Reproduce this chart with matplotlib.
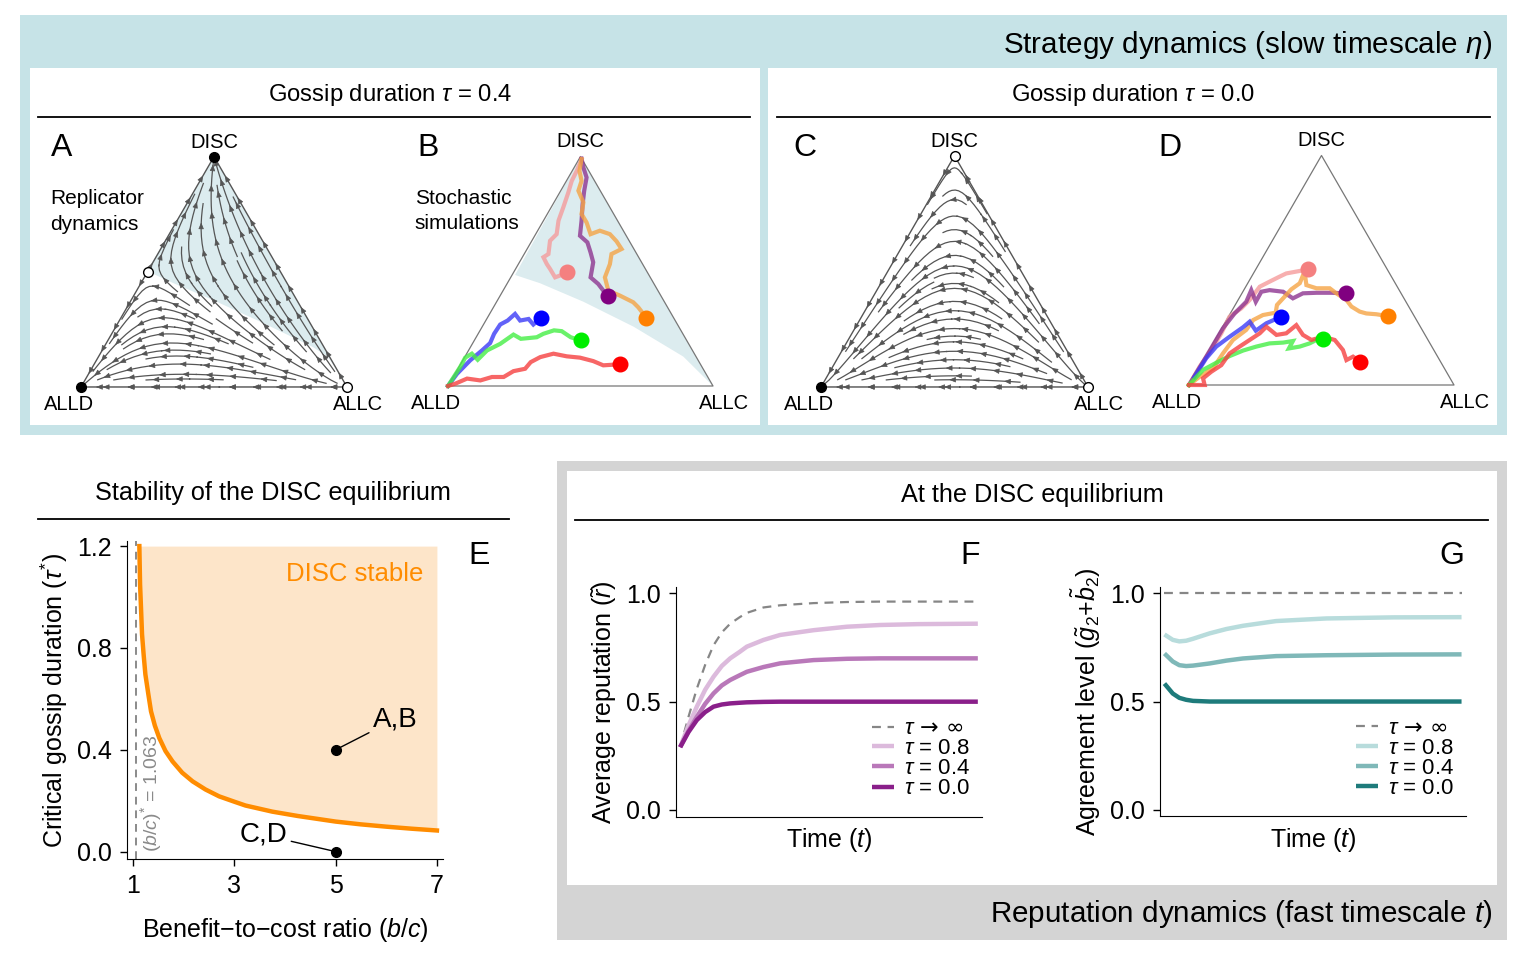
import numpy as np
import matplotlib
matplotlib.use("Agg")
import matplotlib.pyplot as plt
from matplotlib.patches import Rectangle, Polygon
from matplotlib.lines import Line2D

plt.rcParams['font.family'] = ['Liberation Sans', 'DejaVu Sans']
plt.rcParams['mathtext.fontset'] = 'custom'
plt.rcParams['mathtext.rm'] = 'Liberation Sans'
plt.rcParams['mathtext.it'] = 'Liberation Sans:italic'
plt.rcParams['mathtext.bf'] = 'Liberation Sans:bold'

W, H = 1528, 966
SQ3 = np.sqrt(3) / 2

# ---------------- data ----------------
# replicator payoffs, rows/cols = ALLD, ALLC, DISC
payoff_tau04 = [[0, 3, 1], [-1, 2, 1], [-1, 3.5, 2]]
payoff_tau00 = [[0, 3, 1], [-1, 2, 0], [-1.5, 3.5, 0.5]]

# basin of DISC (triangle coords X, Y)
sep_A_x = [0.248, 0.346, 0.496, 0.684, 0.872, 0.929, 1.0]
sep_A_y = [0.436, 0.391, 0.327, 0.241, 0.150, 0.113, 0.0]
sep_B_x = [0.253, 0.347, 0.511, 0.700, 0.888, 1.0]
sep_B_y = [0.419, 0.388, 0.318, 0.224, 0.111, 0.0]

# stochastic runs, tau = 0.4 (panel B)
B_pink = [(0.504, 0.856), (0.486, 0.812), (0.467, 0.774), (0.454, 0.730), (0.435, 0.674), (0.417, 0.624),
          (0.410, 0.573), (0.385, 0.548), (0.379, 0.498), (0.360, 0.486), (0.373, 0.460), (0.385, 0.442),
          (0.404, 0.410), (0.423, 0.417), (0.448, 0.429)]
B_purple = [(0.504, 0.858), (0.511, 0.824), (0.523, 0.787), (0.514, 0.737), (0.508, 0.686), (0.504, 0.624),
            (0.498, 0.567), (0.526, 0.542), (0.538, 0.504), (0.548, 0.467), (0.538, 0.410), (0.567, 0.385),
            (0.586, 0.360), (0.605, 0.338)]
B_orange = [(0.504, 0.856), (0.496, 0.812), (0.504, 0.774), (0.492, 0.737), (0.511, 0.693), (0.504, 0.649),
            (0.523, 0.617), (0.538, 0.573), (0.573, 0.586), (0.611, 0.573), (0.636, 0.546), (0.655, 0.517),
            (0.617, 0.498), (0.611, 0.460), (0.592, 0.410), (0.605, 0.360), (0.649, 0.341), (0.699, 0.316),
            (0.718, 0.297), (0.749, 0.257)]
B_blue = [(0, 0), (0.034, 0.046), (0.084, 0.097), (0.128, 0.134), (0.159, 0.162), (0.174, 0.197),
          (0.197, 0.232), (0.225, 0.247), (0.253, 0.272), (0.272, 0.247), (0.304, 0.253), (0.322, 0.232),
          (0.350, 0.256)]
B_green = [(0, 0), (0.046, 0.072), (0.065, 0.107), (0.090, 0.122), (0.112, 0.099), (0.147, 0.134),
           (0.197, 0.159), (0.247, 0.194), (0.275, 0.178), (0.335, 0.184), (0.360, 0.197), (0.400, 0.210),
           (0.429, 0.207), (0.463, 0.184), (0.501, 0.172)]
B_red = [(0, 0), (0.028, 0.009), (0.072, 0.028), (0.122, 0.021), (0.166, 0.034), (0.210, 0.034),
         (0.247, 0.056), (0.291, 0.065), (0.312, 0.090), (0.348, 0.109), (0.398, 0.122), (0.448, 0.112),
         (0.498, 0.107), (0.548, 0.094), (0.586, 0.078), (0.649, 0.082)]

# stochastic runs, tau = 0.0 (panel D)
D_pink = [(0, 0), (0.040, 0.069), (0.084, 0.132), (0.122, 0.195), (0.153, 0.258), (0.197, 0.289),
          (0.229, 0.321), (0.267, 0.371), (0.304, 0.390), (0.342, 0.409), (0.367, 0.421), (0.405, 0.428),
          (0.449, 0.436)]
D_purple = [(0, 0), (0.065, 0.107), (0.128, 0.214), (0.172, 0.270), (0.216, 0.314), (0.235, 0.358),
            (0.252, 0.314), (0.273, 0.352), (0.304, 0.358), (0.355, 0.352), (0.392, 0.327), (0.430, 0.346),
            (0.481, 0.348), (0.537, 0.348), (0.591, 0.346)]
D_orange = [(0, 0), (0.040, 0.031), (0.091, 0.063), (0.128, 0.119), (0.166, 0.170), (0.216, 0.208),
            (0.242, 0.245), (0.279, 0.264), (0.327, 0.273), (0.332, 0.302), (0.367, 0.340), (0.386, 0.361),
            (0.418, 0.384), (0.436, 0.428), (0.443, 0.377), (0.481, 0.365), (0.531, 0.365), (0.556, 0.346),
            (0.594, 0.321), (0.613, 0.296), (0.644, 0.277), (0.669, 0.270), (0.707, 0.267), (0.751, 0.260)]
D_blue = [(0.02, 0.03), (0.065, 0.101), (0.103, 0.145), (0.153, 0.182), (0.204, 0.218), (0.229, 0.239),
          (0.252, 0.205), (0.292, 0.233), (0.319, 0.245), (0.348, 0.258)]
D_green = [(0, 0), (0.053, 0.057), (0.103, 0.084), (0.153, 0.109), (0.204, 0.130), (0.254, 0.145),
           (0.304, 0.157), (0.355, 0.160), (0.392, 0.166), (0.377, 0.138), (0.418, 0.145), (0.455, 0.157),
           (0.481, 0.170), (0.506, 0.172)]
D_red = [(0, 0), (0.059, 0.0), (0.053, 0.025), (0.084, 0.050), (0.122, 0.075), (0.153, 0.119),
         (0.191, 0.145), (0.229, 0.170), (0.267, 0.195), (0.292, 0.220), (0.330, 0.189), (0.367, 0.195),
         (0.405, 0.226), (0.430, 0.189), (0.462, 0.170), (0.506, 0.182), (0.550, 0.170), (0.581, 0.132),
         (0.594, 0.094), (0.619, 0.107), (0.647, 0.088)]

# panel E: critical gossip duration vs b/c
bc_ratio = [1.124, 1.138, 1.16, 1.177, 1.21, 1.243, 1.30, 1.354, 1.43, 1.518, 1.64, 1.78, 1.97, 2.175,
            2.43, 2.70, 3.0, 3.22, 3.75, 4.25, 5.0, 5.5, 6.0, 6.5, 7.0]
tau_crit = [1.20, 1.05, 0.94, 0.853, 0.77, 0.696, 0.62, 0.551, 0.495, 0.446, 0.395, 0.354, 0.31, 0.276,
            0.244, 0.217, 0.196, 0.181, 0.157, 0.14, 0.118, 0.107, 0.098, 0.09, 0.083]
bc_star = 1.063
points_bc = [5, 5]
points_tau = [0.4, 0.0]
point_labels = ["A,B", "C,D"]

# panels F, G: time in fractions of the shown window
t_frac = [0, 0.028, 0.056, 0.084, 0.112, 0.14, 0.168, 0.2, 0.224, 0.28, 0.336, 0.448, 0.56, 0.672, 0.8, 1.0]
rep_inf = [0.29, 0.43, 0.56, 0.67, 0.76, 0.82, 0.86, 0.89, 0.91, 0.935, 0.945, 0.955, 0.96, 0.962, 0.962, 0.962]
rep_08 = [0.29, 0.39, 0.477, 0.555, 0.615, 0.665, 0.70, 0.73, 0.754, 0.785, 0.808, 0.83, 0.846, 0.854, 0.858, 0.86]
rep_04 = [0.29, 0.365, 0.43, 0.49, 0.538, 0.575, 0.60, 0.622, 0.638, 0.66, 0.677, 0.692, 0.698, 0.70, 0.70, 0.70]
rep_00 = [0.29, 0.36, 0.415, 0.452, 0.477, 0.487, 0.492, 0.495, 0.497, 0.499, 0.5, 0.5, 0.5, 0.5, 0.5, 0.5]

agr_t = [0, 0.028, 0.05, 0.073, 0.096, 0.152, 0.208, 0.264, 0.376, 0.545, 0.77, 1.0]
agr_inf = [1.0, 1.0, 1.0, 1.0, 1.0, 1.0, 1.0, 1.0, 1.0, 1.0, 1.0, 1.0]
agr_08 = [0.81, 0.785, 0.778, 0.781, 0.79, 0.815, 0.835, 0.85, 0.872, 0.884, 0.889, 0.89]
agr_04 = [0.722, 0.685, 0.668, 0.664, 0.666, 0.676, 0.689, 0.699, 0.71, 0.714, 0.717, 0.718]
agr_00 = [0.583, 0.537, 0.517, 0.508, 0.503, 0.5, 0.5, 0.5, 0.5, 0.5, 0.5, 0.5]

tau_labels = [r"$\tau$ → ∞", r"$\tau$ = 0.8", r"$\tau$ = 0.4", r"$\tau$ = 0.0"]
purples = ["#868686", "#dcbadc", "#b978b9", "#8a1f8a"]
teals = ["#868686", "#b8dcdc", "#7fb8b8", "#1e7b7b"]

ARROW_GREY = "#555555"


# ---------------- helpers ----------------
def rect(x0, y0, x1, y1):
    return [x0 / W, 1 - y1 / H, (x1 - x0) / W, (y1 - y0) / H]


def fig_box(fig, x0, y0, x1, y1, color):
    fig.add_artist(Rectangle((x0 / W, 1 - y1 / H), (x1 - x0) / W, (y1 - y0) / H,
                             transform=fig.transFigure, facecolor=color, edgecolor="none", zorder=0))


def fig_hline(fig, x0, x1, y):
    fig.add_artist(Line2D([x0 / W, x1 / W], [1 - y / H, 1 - y / H], transform=fig.transFigure,
                          color="black", lw=1.3))


def fig_label(fig, x, y, s, **kw):
    fig.text(x / W, 1 - y / H, s, ha="center", va="center", **kw)


def tri_axes(fig, ox, oy, s):
    # ALLD vertex at pixel (ox, oy), s pixels per unit side
    x0, x1, y0, y1 = ox - 60, ox + s + 50, oy - 260, oy + 40
    ax = fig.add_axes(rect(x0, y0, x1, y1))
    ax.set_xlim((x0 - ox) / s, (x1 - ox) / s)
    ax.set_ylim((oy - y1) / s, (oy - y0) / s)
    ax.axis("off")
    return ax


def tri_frame(ax, color="#555555", lw=1.0):
    ax.plot([0, 1, 0.5, 0], [0, 0, SQ3, 0], color=color, lw=lw, zorder=3)
    ax.text(0.5, SQ3 + 0.055, "DISC", ha="center", va="center", fontsize=14.5)
    ax.text(-0.045, -0.065, "ALLD", ha="center", va="center", fontsize=14.5)
    ax.text(1.042, -0.065, "ALLC", ha="center", va="center", fontsize=14.5)


def velocity(payoff, X, Y):
    xs = Y / SQ3
    xc = X - 0.5 * xs
    xd = 1 - xc - xs
    P = np.stack([xd, xc, xs])
    M = np.asarray(payoff, float)
    f = np.tensordot(M, P, axes=1)
    fbar = (P * f).sum(0)
    dP = P * (f - fbar)
    return dP[1] + 0.5 * dP[2], SQ3 * dP[2], (xd, xc, xs)


def arrowhead(ax, p, d):
    d = d / (np.hypot(*d) + 1e-12)
    ax.annotate("", xy=(p[0] + 0.003 * d[0], p[1] + 0.003 * d[1]), xytext=(p[0] - 0.003 * d[0], p[1] - 0.003 * d[1]),
                arrowprops=dict(arrowstyle="-|>,head_length=0.6,head_width=0.25", color=ARROW_GREY, lw=0.5,
                                shrinkA=0, shrinkB=0, mutation_scale=6.5), zorder=4)


def chain(segs):
    out, cur = [], None
    for s in segs:
        s = np.asarray(s)
        if len(s) < 2:
            continue
        if cur is not None and np.allclose(cur[-1], s[0]):
            cur.extend(list(s[1:]))
        else:
            if cur is not None:
                out.append(np.array(cur))
            cur = list(s)
    if cur is not None:
        out.append(np.array(cur))
    return out


def replicator(ax, payoff, density):
    n = 240
    gx = np.linspace(0, 1, n)
    gy = np.linspace(0, SQ3, n)
    X, Y = np.meshgrid(gx, gy)
    U, V, (xd, xc, xs) = velocity(payoff, X, Y)
    out = (xd < -1e-9) | (xc < -1e-9) | (xs < -1e-9)
    U = np.ma.masked_where(out, U)
    V = np.ma.masked_where(out, V)
    sp = ax.streamplot(gx, gy, U, V, density=density, color=ARROW_GREY, linewidth=0.9, arrowsize=0.01,
                       minlength=0.15)
    sp.arrows.set_visible(False)
    tri = Polygon([[0, 0], [1, 0], [0.5, SQ3]], closed=True, transform=ax.transData)
    sp.lines.set_clip_path(tri)
    step = 0.095
    for line in chain(sp.lines.get_segments()):
        seg = np.diff(line, axis=0)
        if len(seg) == 0:
            continue
        L = np.concatenate([[0], np.cumsum(np.hypot(seg[:, 0], seg[:, 1]))])
        pos = step * 0.6
        while pos < L[-1] - 0.02:
            i = max(min(np.searchsorted(L, pos), len(seg)) - 1, 0)
            arrowhead(ax, line[i + 1], seg[i])
            pos += step
    # arrows along the edges
    edges = [((1, 0), (0, 0)), ((0, 0), (0.5, SQ3)), ((1, 0), (0.5, SQ3))]
    for a, b in edges:
        a, b = np.array(a, float), np.array(b, float)
        for s in np.arange(0.06, 0.96, 0.095):
            p = a + s * (b - a)
            u, v, _ = velocity(payoff, np.array(p[0]), np.array(p[1]))
            if np.hypot(u, v) > 1e-4:
                arrowhead(ax, p, np.array([float(u), float(v)]))


def shade(ax, sx, sy):
    poly = list(zip(sx, sy)) + [(0.5, SQ3)]
    ax.add_patch(Polygon(poly, closed=True, facecolor="#dcecef", edgecolor="none", zorder=0))


def runs(ax, traj, lcolors, dcolors):
    for tr, lc, dc in zip(traj, lcolors, dcolors):
        xs = [p[0] for p in tr]
        ys = [p[1] for p in tr]
        ax.plot(xs, ys, color=lc, lw=3.0, alpha=0.8, solid_joinstyle="miter", zorder=4)
        ax.plot(xs[-1], ys[-1], "o", color=dc, ms=10.5, zorder=5)


def eq(ax, x, y, filled):
    ax.plot(x, y, "o", ms=7, mfc="black" if filled else "white", mec="black", mew=1, zorder=6, clip_on=False)


# ---------------- figure ----------------
fig = plt.figure(figsize=(W / 100, H / 100), dpi=100)

fig_box(fig, 20, 15, 1507, 435, "#c6e3e7")
fig_box(fig, 30, 68, 760, 425, "white")
fig_box(fig, 768, 68, 1497, 425, "white")
fig_box(fig, 557, 461, 1507, 940, "#d4d4d4")
fig_box(fig, 567, 471, 1497, 885, "white")

fig.text(1492 / W, 1 - 45 / H, r"Strategy dynamics (slow timescale $\eta$)", ha="right", va="center", fontsize=21.3)
fig.text(1492 / W, 1 - 914 / H, r"Reputation dynamics (fast timescale $t$)", ha="right", va="center", fontsize=21.3)
fig_label(fig, 390, 95, r"Gossip duration $\tau$ = 0.4", fontsize=17.2)
fig_label(fig, 1133, 95, r"Gossip duration $\tau$ = 0.0", fontsize=17.2)
fig_label(fig, 273, 493, "Stability of the DISC equilibrium", fontsize=18.2)
fig_label(fig, 1032, 495, "At the DISC equilibrium", fontsize=18.2)
fig_hline(fig, 38, 750, 117)
fig_hline(fig, 777, 1490, 117)
fig_hline(fig, 38, 509, 519)
fig_hline(fig, 575, 1488, 520)

for x, s in [(62, "A"), (428, "B"), (805, "C"), (1170, "D")]:
    fig_label(fig, x, 148, s, fontsize=23)
for x, s in [(479, "E"), (970, "F"), (1452, "G")]:
    fig_label(fig, x, 556, s, fontsize=23)

lcol = ["#f59b9b", "#8e3590", "#f5a445", "#3b3bf7", "#45ee45", "#f54040"]
dcol = ["#f48080", "#800080", "#ff8000", "#0000ff", "#00ee00", "#ff0000"]

# A
ax = tri_axes(fig, 81, 387, 266)
shade(ax, sep_A_x, sep_A_y)
replicator(ax, payoff_tau04, 1.15)
tri_frame(ax)
eq(ax, 0.5, SQ3, True)
eq(ax, 0, 0, True)
eq(ax, 1, 0, False)
eq(ax, 0.25, 0.5 * SQ3, False)
ax.text(-0.117, 0.66, "Replicator\ndynamics", fontsize=15, ha="left", va="center", linespacing=1.45)

# B
ax = tri_axes(fig, 448, 386, 265)
shade(ax, sep_B_x, sep_B_y)
tri_frame(ax, color="#777777", lw=0.9)
runs(ax, [B_pink, B_purple, B_orange, B_blue, B_green, B_red], lcol, dcol)
ax.text(-0.125, 0.66, "Stochastic\nsimulations", fontsize=15, ha="left", va="center", linespacing=1.45)

# C
ax = tri_axes(fig, 821, 387, 267)
replicator(ax, payoff_tau00, 1.15)
tri_frame(ax)
eq(ax, 0.5, SQ3, False)
eq(ax, 0, 0, True)
eq(ax, 1, 0, False)

# D
ax = tri_axes(fig, 1189, 385, 265)
tri_frame(ax, color="#777777", lw=0.9)
runs(ax, [D_pink, D_purple, D_orange, D_blue, D_green, D_red], lcol, dcol)

# E
axE = fig.add_axes(rect(127, 541, 443, 859))
axE.fill_between(bc_ratio, tau_crit, 1.2, color="#fde5c9", lw=0)
axE.plot(bc_ratio, tau_crit, color="#ff8c00", lw=3.2)
axE.axvline(bc_star, color="#8a8a8a", ls=(0, (4, 3)), lw=1.4)
axE.text(bc_star + 0.3, 0.0, r"$(b/c)^{*}$ = 1.063", rotation=90, color="#8a8a8a", fontsize=14,
         ha="center", va="bottom")
axE.text(6.73, 1.09, "DISC stable", color="#ff8c00", fontsize=18.5, ha="right", va="center")
axE.plot(points_bc, points_tau, "o", color="black", ms=7)
axE.annotate(point_labels[0], (points_bc[0], points_tau[0]), xytext=(6.18, 0.52), fontsize=20,
             ha="center", va="center", arrowprops=dict(arrowstyle="-", color="black", lw=1, shrinkA=1, shrinkB=3))
axE.annotate(point_labels[1], (points_bc[1], points_tau[1]), xytext=(3.57, 0.066), fontsize=20,
             ha="center", va="center", arrowprops=dict(arrowstyle="-", color="black", lw=1, shrinkA=1, shrinkB=3))
axE.set_xlim(0.88, 7.12)
axE.set_ylim(-0.029, 1.22)
axE.set_xticks([1, 3, 5, 7])
axE.set_yticks([0, 0.4, 0.8, 1.2])
axE.set_yticklabels(["0.0", "0.4", "0.8", "1.2"])
axE.set_xlabel(r"Benefit$-$to$-$cost ratio ($b/c$)", fontsize=18, labelpad=13)
axE.set_ylabel(r"Critical gossip duration ($\tau^{*}$)", fontsize=18, labelpad=5)


def time_axes(r, t, series, colors, ylabel):
    ax = fig.add_axes(r)
    for k, (y, c) in enumerate(zip(series, colors)):
        if k == 0:
            ax.plot(t, y, color=c, lw=1.6, ls=(0, (4, 3)), label=tau_labels[k])
        else:
            ax.plot(t, y, color=c, lw=3.2, label=tau_labels[k], solid_capstyle="butt")
    ax.set_xlim(-0.015, 1.015)
    ax.set_ylim(-0.031, 1.028)
    ax.set_xticks([])
    ax.set_yticks([0, 0.5, 1.0])
    ax.set_yticklabels(["0.0", "0.5", "1.0"])
    ax.set_xlabel(r"Time ($t$)", fontsize=18, labelpad=7)
    ax.set_ylabel(ylabel, fontsize=18, labelpad=5)
    leg = ax.legend(loc="lower right", bbox_to_anchor=(0.96, 0.075), frameon=False, fontsize=16,
                    handlelength=1.0, handletextpad=0.45, labelspacing=-0.03, borderpad=0, borderaxespad=0)
    leg.get_texts()[0].set_fontfamily(["DejaVu Sans"])
    return ax


axF = time_axes(rect(675.7, 587.3, 982.3, 816.7), t_frac, [rep_inf, rep_08, rep_04, rep_00], purples,
                r"Average reputation ($\tilde{r}$)")
axG = time_axes(rect(1160, 587.3, 1466, 816.4), agr_t, [agr_inf, agr_08, agr_04, agr_00], teals,
                r"Agreement level ($\tilde{g}_2$+$\tilde{b}_2$)")

for a in (axE, axF, axG):
    a.spines["top"].set_visible(False)
    a.spines["right"].set_visible(False)
    a.tick_params(direction="out", length=5, width=1, labelsize=18, pad=6)

fig.savefig("out.png", dpi=100)
